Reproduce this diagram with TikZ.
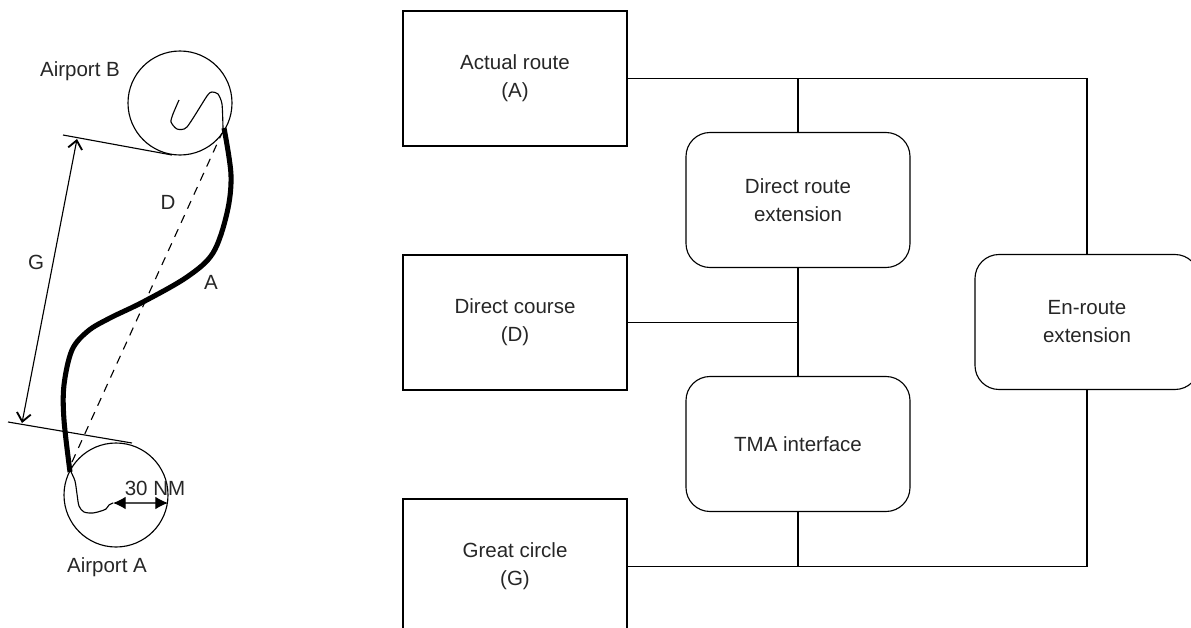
\documentclass[tikz,border=0pt]{standalone}
\usepackage{fontspec}
\setmainfont{Liberation Sans}
\usetikzlibrary{arrows.meta}

\tikzset{
  every node/.style={font=\fontsize{14.6}{19.9}\selectfont, text=black!85},
  routebox/.style={draw, line width=0.8pt, minimum width=56mm, minimum height=33.75mm,
    align=center, outer sep=0pt, inner sep=0pt},
  extbox/.style={routebox, rounded corners=6mm},
  link/.style={line width=0.8pt},
  route/.style={line width=3.6pt, line join=round},
}

\begin{document}
\begin{tikzpicture}[x=0.25mm, y=-0.25mm]

    % Fix the page to the reference frame
    \useasboundingbox (0,0) rectangle (1191,628);
    \clip (0,0) rectangle (1191,628);

    % Centres of the two airport circles
    \coordinate (B) at (180,103);
    \coordinate (A) at (116,495);

    % Draw the airport circles
    \draw[link] (B) circle[radius=52];
    \draw[link] (A) circle[radius=52];
    \node (labB) at (80,71) {Airport B};
    \node (labA) at (107,567) {Airport A};

    % Tangent lines at the circles
    \coordinate (tB1) at (63,135);
    \coordinate (tB2) at (172,155);
    \coordinate (tA1) at (8,422);
    \coordinate (tA2) at (132,443);
    \draw[link] (tB1) -- (tB2);
    \draw[link] (tA1) -- (tA2);

    % Great circle distance between the tangents
    \coordinate (gTop) at (77,139);
    \coordinate (gBot) at (22,423);
    \draw[link, {Straight Barb[length=6pt, width=10pt, line width=1.3pt]}-{Straight Barb[length=6pt, width=10pt, line width=1.3pt]}]
      (gTop) -- (gBot);
    \node (labG) at (36,262) {G};

    % Direct course (dashed)
    \coordinate (dTop) at (222,133);
    \coordinate (dBot) at (72,462);
    \draw[link, dash pattern=on 6pt off 5pt] (dBot) -- (dTop);
    \node (labD) at (168,202) {D};

    % Actual route (thick)
    \draw[route] plot[smooth, tension=0.55] coordinates {
      (224,128) (231,175) (227,213) (213,253) (187,277) (143,302)
      (110,318) (88,331) (72,350) (64,385) (64,420) (70,472)};
    \node (labAr) at (211,282) {A};

    % Manoeuvres inside the TMAs
    \draw[link, line join=round] plot[smooth, tension=0.4] coordinates {
      (223,128) (222,104) (218,94) (212,92) (207,96) (187,127)
      (177,129) (171,122) (173,114) (179,100)};
    \draw[link, line join=round] plot[smooth, tension=0.5] coordinates {
      (71,472) (75,481) (77,494) (79,506) (84,512) (93,513)
      (101,511) (106,509) (109,505) (113,503)};

    % 30 NM radius
    \coordinate (nmL) at (113,503);
    \coordinate (nmR) at (168,503);
    \draw[link, black!70, {Latex[length=9pt, width=9pt, black]}-{Latex[length=9pt, width=9pt, black]}]
      (nmL) -- (nmR);
    \node (lab30) at (155,488) {30 NM};

    % Boxes of the flight efficiency indicators
    \node[routebox] (actual) at (515,78.5) {Actual route\\(A)};
    \node[routebox] (course) at (515,322.5) {Direct course\\(D)};
    \node[routebox] (great) at (515,566.5) {Great circle\\(G)};
    \node[extbox] (dirext) at (798,200) {Direct route\\extension};
    \node[extbox] (tma) at (798,444) {TMA interface};
    \node[extbox] (enroute) at (1087,322) {En-route\\extension};

    % Connections between the boxes
    \draw[link] (actual.east) -| (enroute.north);
    \draw[link] (dirext.north) -- (dirext.north |- actual.east);
    \draw[link] (dirext.south) -- (tma.north);
    \draw[link] (course.east) -- (course.east -| dirext.south);
    \draw[link] (great.east) -| (enroute.south);
    \draw[link] (tma.south) -- (tma.south |- great.east);

\end{tikzpicture}
\end{document}
